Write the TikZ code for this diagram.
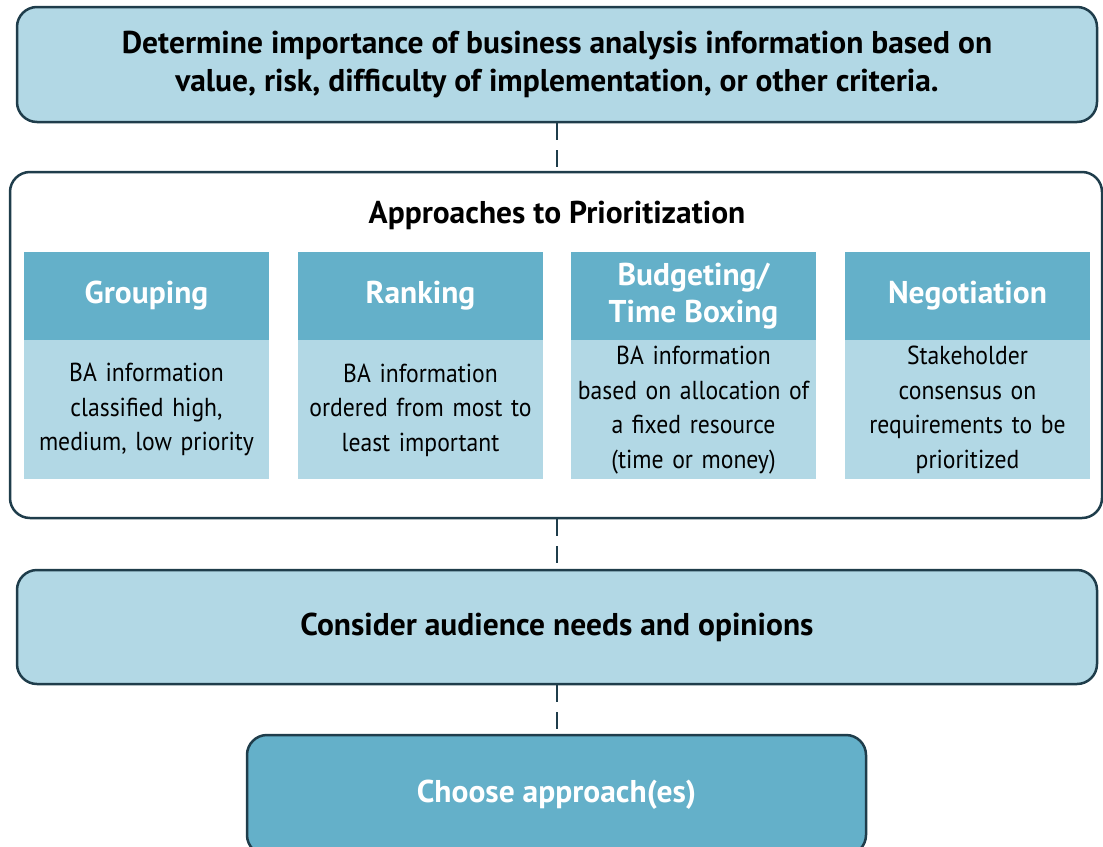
\documentclass[tikz,border=0pt]{standalone}
\usepackage{fontspec}
\setmainfont{PT Sans}
\newfontfamily\narrowsans[FakeStretch=0.91]{PT Sans}
\usepackage{xcolor}
\usetikzlibrary{positioning}
\definecolor{flowink}{HTML}{1F3D4B}
\definecolor{flowpale}{HTML}{B2D8E5}
\definecolor{flowdeep}{HTML}{64B0C9}
\newcommand{\headfont}{\fontsize{31.5}{37.5}\selectfont\bfseries}
\newcommand{\bodyfont}{\narrowsans\fontsize{26}{34.5}\selectfont}

\begin{document}
\begin{tikzpicture}[x=1pt, y=-1pt,
  stepbox/.style={draw=flowink, line width=2.5pt, rounded corners=20pt, fill=flowpale,
    align=center, font=\headfont, minimum width=1080pt},
  framebox/.style={draw=flowink, line width=2.5pt, rounded corners=20pt, fill=white},
  colhead/.style={fill=flowdeep, text=white, align=center, font=\headfont,
    minimum width=245pt, minimum height=88pt, inner sep=0pt},
  colbody/.style={fill=flowpale, align=center, font=\bodyfont, text width=245pt,
    minimum height=139pt, inner sep=0pt},
  link/.style={draw=flowink, line width=2.5pt, dash pattern=on 17pt off 10pt}]

  \clip (0,0) rectangle (1103,846);
  \useasboundingbox (0,0) rectangle (1103,846);

  %% top step
  \node[stepbox, minimum height=115pt] (determine) at (557,64.5)
    {Determine importance of business analysis information based on\\
     value, risk, difficulty of implementation, or other criteria.};

  %% frame with the four approaches
  \node[framebox, minimum width=1092pt, minimum height=346pt] (approaches) at (556,345) {};
  \node[font=\headfont] (approachtitle) at (557,215) {Approaches to Prioritization};

  \node[colhead] (grouphead) at (146.5,296) {Grouping};
  \node[colbody, below=0pt of grouphead] (groupbody)
    {BA information\\ classified high,\\ medium, low priority};

  \node[colhead] (rankhead) at (420.5,296) {Ranking};
  \node[colbody, below=0pt of rankhead] (rankbody)
    {BA information\\ ordered from most to\\ least important};

  \node[colhead] (budgethead) at (693.5,296) {Budgeting/\\Time Boxing};
  \node[colbody, below=0pt of budgethead] (budgetbody)
    {BA information\\ based on allocation of\\ a fixed resource\\ (time or money)};

  \node[colhead] (negohead) at (967.5,296) {Negotiation};
  \node[colbody, below=0pt of negohead] (negobody)
    {Stakeholder\\ consensus on\\ requirements to be\\ prioritized};

  %% lower steps
  \node[stepbox, minimum height=114pt] (consider) at (557,627)
    {Consider audience needs and opinions};
  \node[stepbox, fill=flowdeep, text=white, minimum width=619pt, minimum height=120pt]
    (choose) at (556.5,795) {Choose approach(es)};

  \draw[link] (determine.south) -- (determine.south |- approaches.north);
  \draw[link] (determine.south |- approaches.south) -- (consider.north);
  \draw[link] (consider.south) -- (consider.south |- choose.north);

\end{tikzpicture}
\end{document}
